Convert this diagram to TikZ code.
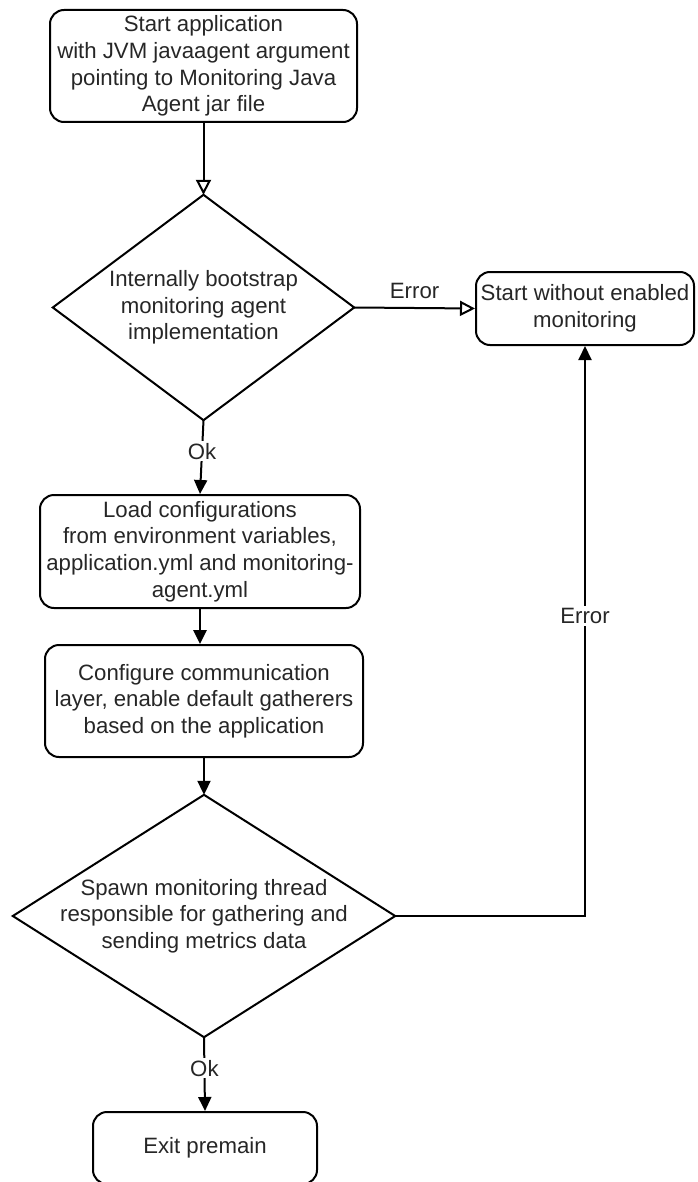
\documentclass[tikz,border=0pt]{standalone}
\usepackage{fontspec}
\setmainfont{Liberation Sans}
\usetikzlibrary{arrows.meta}
\begin{document}
\begin{tikzpicture}[x=1pt, y=-1pt,
  every node/.style={font=\fontsize{22.2pt}{26.7pt}\selectfont, text=black!85, align=center},
  stepbox/.style={draw, rounded corners=14pt, line width=2pt, inner sep=0pt},
  decision/.style={inner sep=0pt},
  conn/.style={line width=2pt, -{Triangle[length=14pt, width=13pt]}},
  openconn/.style={line width=2pt, -{Triangle[open, length=15pt, width=15pt, line width=2pt]}},
  lbl/.style={fill=white, inner sep=2pt}
]
\useasboundingbox (0,0) rectangle (697,1182);

% process steps
\node[stepbox, minimum width=307pt, minimum height=112pt] (start) at (203.5,66)
  {Start application\\with JVM javaagent argument\\pointing to Monitoring Java\\Agent jar file};
\node[stepbox, minimum width=320pt, minimum height=113pt] (load) at (200,551.5)
  {Load configurations\\from environment variables,\\application.yml and monitoring-\\agent.yml};
\node[stepbox, minimum width=318pt, minimum height=112pt] (config) at (204,701)
  {Configure communication\\layer, enable default gatherers\\based on the application};
\node[stepbox, minimum width=218pt, minimum height=73pt] (nomon) at (585,308.5)
  {Start without enabled\\monitoring};
\node[stepbox, minimum width=224pt, minimum height=72pt] (exit) at (205,1148)
  {Exit premain};

% decisions
\node[decision, minimum width=301pt, minimum height=225pt] (boot) at (203.5,307.5)
  {Internally bootstrap\\monitoring agent\\implementation};
\draw[line width=2pt, line join=miter] (boot.north) -- (boot.east) -- (boot.south) -- (boot.west) -- cycle;
\node[decision, minimum width=382pt, minimum height=242pt] (spawn) at (204,916)
  {Spawn monitoring thread\\responsible for gathering and\\sending metrics data};
\draw[line width=2pt, line join=miter] (spawn.north) -- (spawn.east) -- (spawn.south) -- (spawn.west) -- cycle;

% connectors
\draw[openconn] (start.south) -- (boot.north);
\draw[openconn] (boot.east) -- node[above=7pt, inner sep=1pt] {Error} (nomon.west);
\draw[conn] (boot.south) -- node[lbl, pos=0.42] {Ok} (load.north);
\draw[conn, line width=2.6pt] (load.south) -- (load.south |- config.north);
\draw[conn] (config.south) -- (spawn.north);
\draw[conn] (spawn.east) -| node[lbl, pos=0.763] {Error} (nomon.south);
\draw[conn] (spawn.south) -- node[lbl, pos=0.42] {Ok} (exit.north);
\end{tikzpicture}
\end{document}
